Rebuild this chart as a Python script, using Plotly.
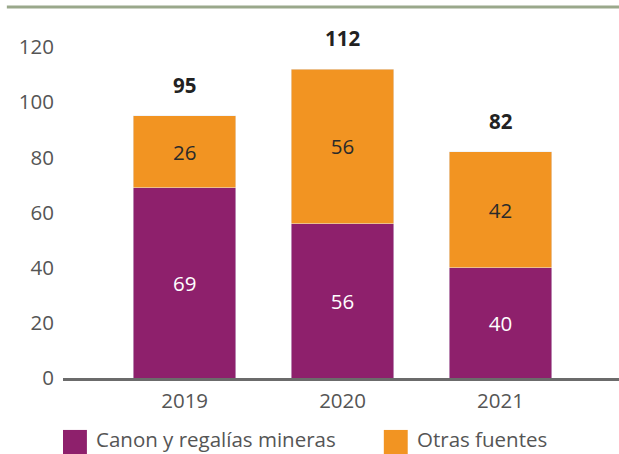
import plotly.graph_objects as go

# Ingresos por año (millones)
years = ["2019", "2020", "2021"]
canon = [69, 56, 40]
otras = [26, 56, 42]
totals = [95, 112, 82]
series_names = ["Canon y regalías mineras", "Otras fuentes"]
y_ticks = [0, 20, 40, 60, 80, 100, 120]

PURPLE = "#8E206C"
ORANGE = "#F29422"
FONT = "Open Sans"
FS = 20.5

fig = go.Figure()
fig.add_trace(go.Bar(
    x=years, y=canon, name=series_names[0], marker_color=PURPLE,
    text=canon, textposition="inside", insidetextanchor="middle",
    textfont=dict(color="white", size=FS, family=FONT), width=0.65,
))
fig.add_trace(go.Bar(
    x=years, y=otras, name=series_names[1], marker_color=ORANGE,
    text=otras, textposition="inside", insidetextanchor="middle",
    textfont=dict(color="#2a2a2a", size=FS, family=FONT), width=0.65,
))

# Totals above each stack (category index positions)
for i, tot in enumerate(totals):
    fig.add_annotation(x=i, y=tot, text=f"<b>{tot}</b>", showarrow=False,
                       yanchor="bottom", yshift=15,
                       font=dict(size=FS, color="#222222", family=FONT))

# Custom legend: squares + labels below the axis
legend_items = [(series_names[0], PURPLE, 0.0), (series_names[1], ORANGE, 0.577)]
for name, color, x0 in legend_items:
    fig.add_shape(type="rect", xref="paper", yref="paper",
                  x0=x0, x1=x0 + 0.043, y0=-0.140, y1=-0.21,
                  fillcolor=color, line_width=0)
    fig.add_annotation(xref="paper", yref="paper", x=x0 + 0.056, y=-0.165,
                       text=name, showarrow=False, xanchor="left", yanchor="middle",
                       font=dict(size=FS, color="#555555", family=FONT))

# Rule across the top
fig.add_shape(type="line", xref="paper", yref="paper", x0=-0.101, x1=1.0,
              y0=1.0, y1=1.0, line=dict(color="#9AA88B", width=3))

fig.update_layout(
    barmode="stack",
    width=619, height=454,
    margin=dict(l=63, r=0, t=7, b=76),
    plot_bgcolor="white", paper_bgcolor="white",
    showlegend=False,
    font=dict(family=FONT, size=FS, color="#555555"),
    xaxis=dict(type="category", range=[-0.77, 2.75], showline=True,
               linecolor="#6b6b6b", linewidth=2.5, ticks="", showgrid=False,
               tickfont=dict(size=FS, color="#555555"), ticklabelstandoff=3),
    yaxis=dict(range=[0, 134.5], tickvals=y_ticks, showgrid=False,
               zeroline=False, showline=False, ticks="",
               tickfont=dict(size=FS, color="#555555"), ticklabelstandoff=8),
)

fig.write_html("out.html")
